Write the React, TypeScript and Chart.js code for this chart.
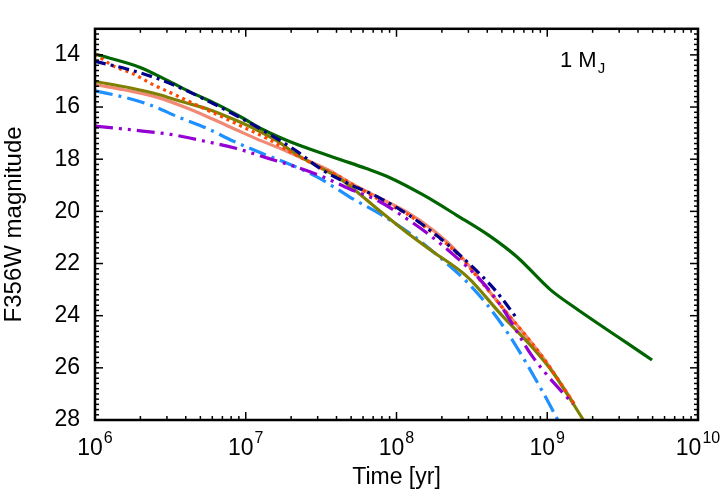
import React, { useEffect, useRef } from 'react';
import { Chart, registerables } from 'chart.js';

Chart.register(...registerables);

const FONT = '"Liberation Sans", Arial, Helvetica, sans-serif';

// Axis / text content
const xTickExponents = [6, 7, 8, 9, 10];
const yTickValues = [14, 16, 18, 20, 22, 24, 26, 28];
const xTitle = 'Time [yr]';
const yTitle = 'F356W magnitude';
const annotationMain = '1 M';
const annotationSub = 'J';

// Series data (log10 of age in years, F356W magnitude)
const greenLogT = [6.0, 6.3, 6.48, 6.63, 6.81, 6.98, 7.11, 7.29, 7.51, 7.63, 7.8, 7.96, 8.18, 8.4, 8.62, 8.8, 9.02, 9.17, 9.4, 9.53, 9.695];
const greenMag = [13.97, 14.48, 14.98, 15.42, 15.9, 16.42, 16.85, 17.32, 17.78, 18.02, 18.36, 18.72, 19.38, 20.15, 20.95, 21.75, 23.0, 23.64, 24.55, 25.05, 25.7];

const navyLogT = [6.0, 6.21, 6.41, 6.61, 6.78, 6.98, 7.16, 7.34, 7.51, 7.69, 7.89, 8.07, 8.18, 8.335, 8.49, 8.62, 8.69, 8.8];
const navyMag = [14.25, 14.54, 14.9, 15.38, 15.86, 16.46, 17.05, 17.7, 18.42, 18.96, 19.49, 20.1, 20.54, 21.25, 22.05, 22.8, 23.27, 24.12];

const orangeLogT = [6.0, 6.12, 6.25, 6.385, 6.52, 6.65, 6.85, 6.98, 7.14, 7.29, 7.47, 7.6, 7.69, 7.91, 8.07, 8.24, 8.4, 8.57, 8.69, 8.97, 9.18];
const orangeMag = [13.97, 14.42, 14.72, 15.14, 15.5, 15.86, 16.4, 16.76, 17.2, 17.7, 18.25, 18.6, 18.9, 19.63, 20.1, 20.82, 21.6, 22.75, 23.6, 25.59, 27.39];

const oliveLogT = [6.0, 6.23, 6.41, 6.58, 6.76, 6.915, 7.075, 7.21, 7.34, 7.49, 7.605, 7.69, 7.89, 8.07, 8.24, 8.47, 8.69, 8.905, 9.04, 9.24];
const oliveMag = [15.02, 15.26, 15.5, 15.8, 16.1, 16.46, 16.88, 17.31, 17.83, 18.31, 18.67, 19.03, 19.99, 20.82, 21.54, 22.51, 23.93, 25.24, 26.2, 28.0];

const salmonLogT = [6.0, 6.23, 6.41, 6.61, 6.78, 6.94, 7.075, 7.23, 7.37, 7.56, 7.69, 7.89, 8.07, 8.24, 8.4, 8.62, 8.69, 8.97, 9.18];
const salmonMag = [15.14, 15.38, 15.62, 16.04, 16.46, 16.88, 17.23, 17.59, 17.95, 18.45, 18.9, 19.49, 20.03, 20.71, 21.54, 23.1, 23.6, 25.59, 27.39];

const blueLogT = [6.0, 6.19, 6.365, 6.56, 6.74, 6.915, 7.11, 7.29, 7.47, 7.605, 7.69, 7.89, 8.11, 8.29, 8.47, 8.6, 8.75, 8.97, 9.07];
const blueMag = [15.38, 15.62, 15.92, 16.4, 16.81, 17.3, 17.78, 18.19, 18.67, 19.14, 19.45, 20.1, 20.93, 21.78, 22.72, 23.57, 24.77, 26.92, 28.0];

const purpleLogT = [6.0, 6.25, 6.5, 6.72, 6.94, 7.14, 7.34, 7.51, 7.69, 7.89, 8.02, 8.2, 8.375, 8.555, 8.69, 8.905, 9.17];
const purpleMag = [16.73, 16.88, 17.05, 17.3, 17.59, 17.95, 18.31, 18.67, 19.14, 19.63, 20.1, 20.82, 21.65, 22.62, 23.6, 25.59, 27.39];

const toPoints = (logT: number[], mag: number[]) =>
  logT.map((t, i) => ({ x: Math.pow(10, t), y: mag[i] }));

const decorPlugin = {
  id: 'decor',
  afterDraw(chart: any) {
    const { ctx, chartArea, scales } = chart;
    const { left, right, top, bottom } = chartArea;
    const x = scales.x;
    const y = scales.y;
    ctx.save();
    ctx.strokeStyle = '#000';
    ctx.lineWidth = 1.5;
    const seg = (x1: number, y1: number, x2: number, y2: number) => {
      ctx.beginPath();
      ctx.moveTo(x1, y1);
      ctx.lineTo(x2, y2);
      ctx.stroke();
    };
    // x ticks (inward, top and bottom)
    for (let d = 6; d < 10; d++) {
      for (let m = 1; m < 10; m++) {
        const px = x.getPixelForValue(m * Math.pow(10, d));
        const len = m === 1 ? 8 : 4;
        seg(px, bottom, px, bottom - len);
        seg(px, top, px, top + len);
      }
    }
    // y ticks (inward, left and right)
    for (let i = 0; i <= 75; i++) {
      const v = 13 + i * 0.2;
      const major = Math.abs(v / 2 - Math.round(v / 2)) < 1e-6;
      const py = y.getPixelForValue(v);
      const len = major ? 8 : 4;
      seg(left, py, left + len, py);
      seg(right, py, right - len, py);
    }
    // frame
    ctx.lineWidth = 2.5;
    ctx.strokeRect(left, top, right - left, bottom - top);

    // x tick labels with superscripts
    ctx.fillStyle = '#000';
    ctx.textBaseline = 'alphabetic';
    ctx.textAlign = 'left';
    const baseFont = `23px ${FONT}`;
    const expFont = `16px ${FONT}`;
    xTickExponents.forEach((e) => {
      const px = x.getPixelForValue(Math.pow(10, e));
      ctx.font = baseFont;
      const wb = ctx.measureText('10').width;
      ctx.font = expFont;
      const we = ctx.measureText(String(e)).width;
      const start = px - (wb + we + 1) / 2;
      ctx.font = baseFont;
      ctx.fillText('10', start, 455);
      ctx.font = expFont;
      ctx.fillText(String(e), start + wb + 1, 443);
    });

    // annotation "1 M_J"
    ctx.font = `22px ${FONT}`;
    const wm = ctx.measureText(annotationMain).width;
    ctx.fillText(annotationMain, 560, 67);
    ctx.font = `15px ${FONT}`;
    ctx.fillText(annotationSub, 560 + wm + 1, 73);
    ctx.restore();
  },
};

export default function App() {
  const canvasRef = useRef<HTMLCanvasElement | null>(null);

  useEffect(() => {
    if (!canvasRef.current) return;
    const common = {
      pointRadius: 0,
      borderWidth: 3.2,
      fill: false,
      cubicInterpolationMode: 'monotone' as const,
    };
    const chart = new Chart(canvasRef.current, {
      type: 'line',
      data: {
        datasets: [
          { ...common, label: 'purple', data: toPoints(purpleLogT, purpleMag), borderColor: '#9400d3', borderDash: [18, 6, 3, 6, 3, 6] },
          { ...common, label: 'navy', data: toPoints(navyLogT, navyMag), borderColor: '#00008b', borderDash: [11, 5, 3, 5] },
          { ...common, label: 'orange', data: toPoints(orangeLogT, orangeMag), borderColor: '#ff4500', borderDash: [3, 4] },
          { ...common, label: 'olive', data: toPoints(oliveLogT, oliveMag), borderColor: '#808000' },
          { ...common, label: 'blue', data: toPoints(blueLogT, blueMag), borderColor: '#1e90ff', borderDash: [18, 6, 3, 6] },
          { ...common, label: 'salmon', data: toPoints(salmonLogT, salmonMag), borderColor: '#f08a75' },
          { ...common, label: 'green', data: toPoints(greenLogT, greenMag), borderColor: '#006400' },
        ],
      },
      options: {
        animation: false,
        responsive: false,
        maintainAspectRatio: false,
        layout: { padding: { top: 2, right: 27, left: 0, bottom: 0 } },
        plugins: { legend: { display: false }, tooltip: { enabled: false } },
        scales: {
          x: {
            type: 'logarithmic',
            min: 1e6,
            max: 1e10,
            grid: { display: false, drawTicks: false },
            border: { display: false },
            ticks: { display: false },
            title: {
              display: true,
              text: xTitle,
              color: '#000',
              font: { family: FONT, size: 23 },
              padding: { top: 0, bottom: 5 },
            },
            afterFit: (s: any) => {
              s.height = 76;
            },
          },
          y: {
            type: 'linear',
            reverse: true,
            min: 13,
            max: 28,
            grid: { display: false, drawTicks: false },
            border: { display: false },
            afterBuildTicks: (s: any) => {
              s.ticks = yTickValues.map((v) => ({ value: v }));
            },
            ticks: {
              color: '#000',
              font: { family: FONT, size: 23 },
              padding: 15,
            },
            title: {
              display: true,
              text: yTitle,
              color: '#000',
              font: { family: FONT, size: 24 },
              padding: { top: 0, bottom: 0 },
            },
            afterFit: (s: any) => {
              s.width = 95;
            },
          },
        },
      },
      plugins: [decorPlugin],
    });
    return () => chart.destroy();
  }, []);

  return (
    <div style={{ position: 'absolute', left: 0, top: 0, width: 725, height: 496, background: '#fff' }}>
      <canvas ref={canvasRef} width={725} height={496} style={{ display: 'block' }} />
    </div>
  );
}
